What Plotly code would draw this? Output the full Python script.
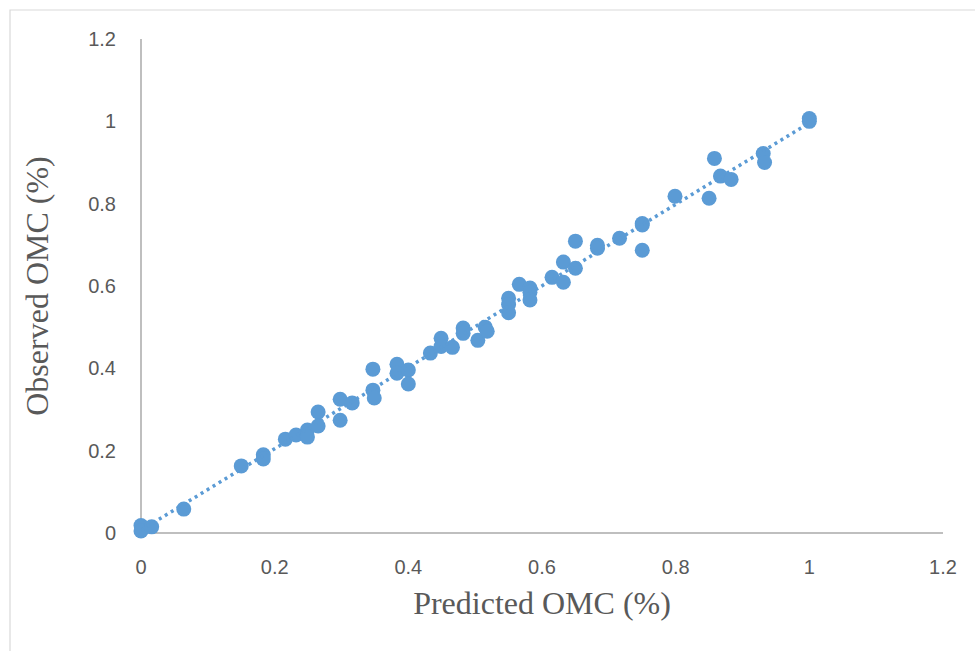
import numpy as np
import plotly.graph_objects as go

predicted = [0, 0, 0.016, 0.064, 0.150, 0.183, 0.183, 0.216, 0.232, 0.249, 0.249,
             0.265, 0.265, 0.298, 0.298, 0.316, 0.347, 0.347, 0.349, 0.383, 0.383,
             0.400, 0.400, 0.433, 0.449, 0.449, 0.466, 0.482, 0.482, 0.504, 0.515,
             0.518, 0.550, 0.550, 0.550, 0.566, 0.582, 0.582, 0.582, 0.615, 0.632,
             0.632, 0.650, 0.650, 0.683, 0.683, 0.716, 0.750, 0.750, 0.750, 0.799,
             0.850, 0.858, 0.867, 0.883, 0.931, 0.933, 1.0, 1.0]
observed = [0.018, 0.005, 0.015, 0.058, 0.163, 0.190, 0.180, 0.228, 0.238, 0.250, 0.233,
            0.294, 0.260, 0.325, 0.274, 0.316, 0.398, 0.347, 0.328, 0.410, 0.388,
            0.396, 0.362, 0.437, 0.473, 0.453, 0.451, 0.498, 0.485, 0.468, 0.500,
            0.490, 0.570, 0.555, 0.535, 0.604, 0.595, 0.585, 0.566, 0.621, 0.609,
            0.658, 0.643, 0.709, 0.699, 0.692, 0.716, 0.752, 0.748, 0.687, 0.818,
            0.813, 0.910, 0.867, 0.859, 0.922, 0.900, 1.007, 1.000]

x_ticks = [0, 0.2, 0.4, 0.6, 0.8, 1, 1.2]
y_ticks = [0, 0.2, 0.4, 0.6, 0.8, 1, 1.2]
x_title = "Predicted OMC (%)"
y_title = "Observed OMC (%)"

blue = "#5B9BD5"
grey_text = "#595959"
axis_grey = "#BFBFBF"

slope, intercept = np.polyfit(predicted, observed, 1)
tx = np.array([min(predicted), max(predicted)])
ty = slope * tx + intercept

fig = go.Figure()
fig.add_trace(go.Scatter(x=predicted, y=observed, mode="markers", cliponaxis=False,
                         marker=dict(size=15, color=blue, line=dict(width=0)),
                         showlegend=False, hoverinfo="skip"))
fig.add_trace(go.Scatter(x=tx, y=ty, mode="lines", cliponaxis=False,
                         line=dict(color=blue, width=3.5, dash="3px,4px"),
                         showlegend=False, hoverinfo="skip"))

L, R, T, B = 141, 32, 39, 118
W, H = 975, 651
pw, ph = W - L - R, H - T - B

fig.add_shape(type="rect", xref="paper", yref="paper",
              x0=(10 - L) / pw, x1=(W + 10 - L) / pw,
              y0=(H - B - (H + 10)) / ph, y1=(H - B - 10) / ph,
              line=dict(color="#D9D9D9", width=1.2), fillcolor="rgba(0,0,0,0)",
              layer="below")

tickfont = dict(family="Liberation Sans, Arial, sans-serif", size=20, color=grey_text)
titlefont = dict(family="Liberation Serif, Times New Roman, serif", size=32, color=grey_text)

fig.update_layout(
    width=W, height=H,
    margin=dict(l=L, r=R, t=T, b=B, pad=0),
    paper_bgcolor="white", plot_bgcolor="white",
    xaxis=dict(range=[0, 1.2], tickvals=x_ticks, ticktext=[f"{v:g}" for v in x_ticks],
               showgrid=False, zeroline=False, showline=False,
               ticks="outside", ticklen=16, tickcolor="rgba(0,0,0,0)",
               tickfont=tickfont,
               title=dict(text=x_title, font=titlefont, standoff=14)),
    yaxis=dict(range=[0, 1.2], tickvals=y_ticks, ticktext=[f"{v:g}" for v in y_ticks],
               showgrid=False, zeroline=False, showline=False,
               ticks="outside", ticklen=20, tickcolor="rgba(0,0,0,0)",
               tickfont=tickfont,
               title=dict(text=y_title, font=titlefont, standoff=29)),
)
# axis lines at x=0 and y=0
fig.add_shape(type="line", xref="paper", yref="paper", x0=0, x1=1, y0=0, y1=0,
              line=dict(color=axis_grey, width=2), layer="below")
fig.add_shape(type="line", xref="paper", yref="paper", x0=0, x1=0, y0=0, y1=1,
              line=dict(color=axis_grey, width=2), layer="below")

fig.write_html("out.html")
